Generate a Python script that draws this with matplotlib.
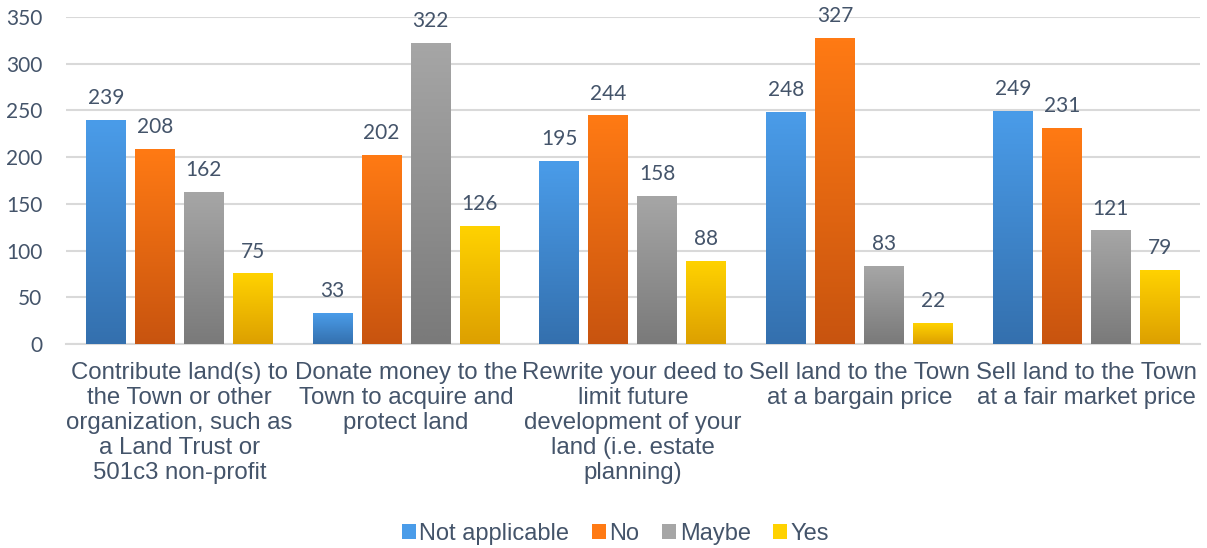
import numpy as np
import matplotlib.pyplot as plt
from matplotlib.colors import LinearSegmentedColormap
from matplotlib.patches import Patch

categories = [
    "Contribute land(s) to\nthe Town or other\norganization, such as\na Land Trust or\n501c3 non-profit",
    "Donate money to the\nTown to acquire and\nprotect land",
    "Rewrite your deed to\nlimit future\ndevelopment of your\nland (i.e. estate\nplanning)",
    "Sell land to the Town\nat a bargain price",
    "Sell land to the Town\nat a fair market price",
]
series = ["Not applicable", "No", "Maybe", "Yes"]
not_applicable = [239, 33, 195, 248, 249]
no = [208, 202, 244, 327, 231]
maybe = [162, 322, 158, 83, 121]
yes = [75, 126, 88, 22, 79]
values = [not_applicable, no, maybe, yes]

# top / bottom gradient colours
top_cols = ["#4A9CE9", "#FF7A14", "#A6A6A6", "#FFD200"]
bot_cols = ["#3470AE", "#C8540F", "#7A7A7A", "#DDA000"]

text_col = "#44546A"

fig = plt.figure(figsize=(12.07, 5.48), dpi=100)
ax = fig.add_axes([0.0547, 0.372, 0.9393, 0.597])

x = np.arange(len(categories))
step = 0.216
width = 0.176
offsets = (np.arange(4) - 1.5) * step

for i, (vals, tc, bc) in enumerate(zip(values, top_cols, bot_cols)):
    bars = ax.bar(x + offsets[i], vals, width, color=tc, zorder=2)
    cmap = LinearSegmentedColormap.from_list("g%d" % i, [bc, tc])
    grad = np.linspace(1, 0, 100).reshape(-1, 1)
    for b, v in zip(bars, vals):
        x0 = b.get_x()
        ax.imshow(grad, cmap=cmap, extent=[x0, x0 + b.get_width(), 0, v],
                  aspect="auto", zorder=3, interpolation="bicubic")
        ax.annotate(str(v), (x0 + b.get_width() / 2, v), xytext=(0, 9),
                    textcoords="offset points", ha="center", va="bottom",
                    fontsize=15, color=text_col, family="Lato")

ax.set_xlim(-0.5, len(categories) - 0.5)
ax.set_ylim(0, 350)
ax.set_yticks(range(0, 351, 50))
ax.grid(axis="y", color="#D9D9D9", linewidth=1.5, zorder=0)
ax.set_axisbelow(True)
for s in ["top", "right", "left"]:
    ax.spines[s].set_visible(False)
ax.spines["bottom"].set_color("#D9D9D9")
ax.spines["bottom"].set_linewidth(1.5)
ax.tick_params(axis="both", length=0)
ax.tick_params(axis="y", labelsize=15, labelcolor=text_col, pad=17)
for t in ax.get_yticklabels():
    t.set_family("Lato")
ax.set_xticks(x)
ax.set_xticklabels(categories, fontsize=17.3, color=text_col,
                   family="Liberation Sans", linespacing=1.18)
ax.tick_params(axis="x", pad=13)

handles = [Patch(facecolor=c) for c in top_cols]
fig.legend(handles, series, loc="center", bbox_to_anchor=(0.51, 0.025),
           ncol=4, frameon=False, handlelength=0.6, handleheight=0.6,
           handletextpad=0.15, columnspacing=0.95,
           prop={"family": "Liberation Sans", "size": 17},
           labelcolor=text_col)

fig.savefig("out.png", dpi=100)
